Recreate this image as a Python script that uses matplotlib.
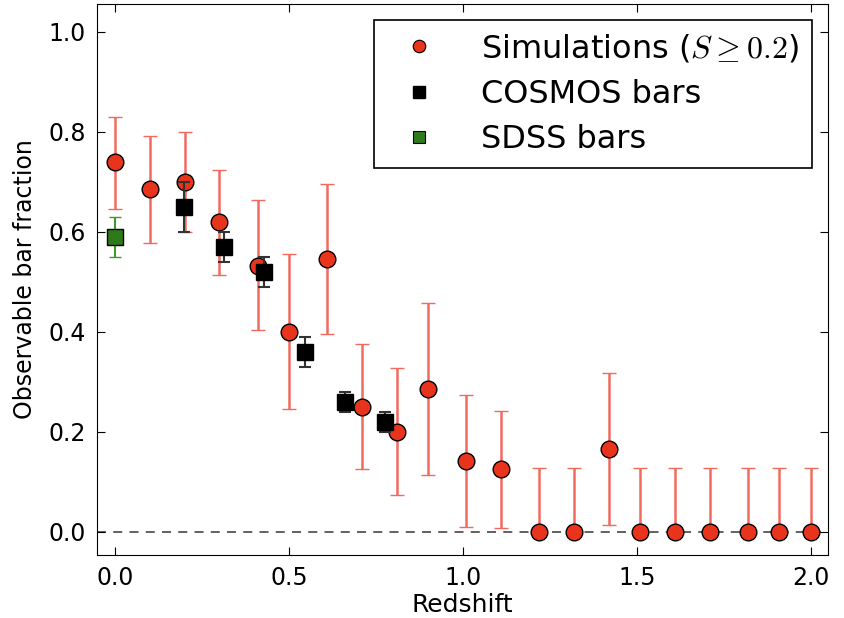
import matplotlib
matplotlib.use("Agg")
import matplotlib.pyplot as plt
from matplotlib.lines import Line2D

plt.rcParams['mathtext.fontset'] = 'cm'

# simulations (S >= 0.2)
sim_z = [0.0, 0.1, 0.2, 0.3, 0.41, 0.5, 0.61, 0.71, 0.81, 0.9, 1.01, 1.11,
         1.22, 1.32, 1.42, 1.51, 1.61, 1.71, 1.82, 1.91, 2.0]
sim_f = [0.74, 0.685, 0.70, 0.62, 0.532, 0.40, 0.546, 0.25, 0.20, 0.286, 0.142, 0.126,
         0.0, 0.0, 0.166, 0.0, 0.0, 0.0, 0.0, 0.0, 0.0]
sim_lo = [0.094, 0.107, 0.10, 0.106, 0.128, 0.154, 0.15, 0.124, 0.126, 0.172, 0.132, 0.118,
          0.0, 0.0, 0.152, 0.0, 0.0, 0.0, 0.0, 0.0, 0.0]
sim_hi = [0.09, 0.107, 0.10, 0.104, 0.132, 0.156, 0.15, 0.126, 0.128, 0.172, 0.132, 0.116,
          0.128, 0.128, 0.152, 0.128, 0.128, 0.128, 0.128, 0.128, 0.128]

# COSMOS bars
cos_z = [0.198, 0.313, 0.428, 0.546, 0.661, 0.776]
cos_f = [0.65, 0.57, 0.52, 0.36, 0.26, 0.22]
cos_err = [0.05, 0.03, 0.03, 0.03, 0.02, 0.02]

# SDSS bars
sdss_z = [0.0]
sdss_f = [0.59]
sdss_err = [0.04]

red = '#e8341c'
fig = plt.figure(figsize=(8.44, 6.18), dpi=100)
ax = fig.add_axes([0.115, 0.102, 0.866, 0.892])

ax.axhline(0, color='#555555', ls='--', lw=1.3, dashes=(5, 4), zorder=1)

ax.errorbar(sim_z, sim_f, yerr=[sim_lo, sim_hi], fmt='o', color='#f06a5e', ecolor='#f06a5e',
            elinewidth=1.8, capsize=5, capthick=1.5, ms=12, mfc=red, mec='black', mew=1,
            zorder=3)
ax.errorbar(cos_z, cos_f, yerr=cos_err, fmt='s', ecolor='#333333', elinewidth=1.5,
            capsize=4, capthick=1.5, ms=11, mfc='black', mec='black', zorder=4)
ax.errorbar(sdss_z, sdss_f, yerr=sdss_err, fmt='s', ecolor='#3f9a2a', elinewidth=1.5,
            capsize=4, capthick=1.5, ms=11, mfc='#2e7a1a', mec='black', mew=1, zorder=4)

ax.set_xlim(-0.052, 2.05)
ax.set_ylim(-0.046, 1.056)
ax.set_xticks([0.0, 0.5, 1.0, 1.5, 2.0])
ax.set_yticks([0.0, 0.2, 0.4, 0.6, 0.8, 1.0])
ax.tick_params(direction='in', top=True, right=True, labelsize=17, length=6, pad=8)
ax.set_xlabel('Redshift', fontsize=18, labelpad=2)
ax.set_ylabel('Observable bar fraction', fontsize=17, labelpad=8)

handles = [
    Line2D([], [], ls='', marker='o', ms=9, mfc=red, mec='black', mew=0.8),
    Line2D([], [], ls='', marker='s', ms=8, mfc='black', mec='black'),
    Line2D([], [], ls='', marker='s', ms=8, mfc='#2e7a1a', mec='black', mew=0.8),
]
labels = [r'Simulations ($S \geq 0.2$)', 'COSMOS bars', 'SDSS bars']
leg = ax.legend(handles, labels, loc='upper right', fontsize=23, numpoints=1,
                fancybox=False, framealpha=1, edgecolor='black', borderaxespad=0.5,
                handletextpad=0.95, labelspacing=0.45, borderpad=0.4)
leg.get_frame().set_linewidth(1.2)

fig.savefig('out.png', dpi=100)
